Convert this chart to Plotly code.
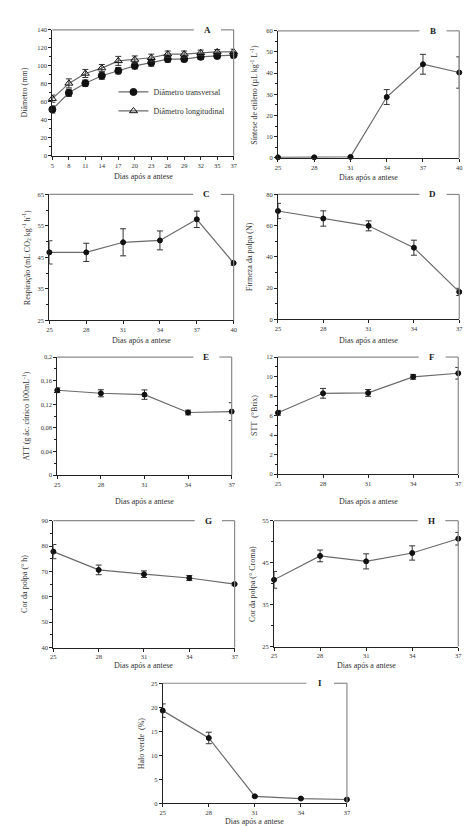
import plotly.graph_objects as go

W, H = 471, 826

# ---------------- data ----------------
A_days = ["5", "8", "11", "14", "17", "20", "23", "26", "29", "32", "35", "37"]
A_trans = [51.5, 70, 80.7, 89, 94.5, 100, 103.5, 107.5, 107.5, 110, 111, 112]
A_trans_err = [4, 4, 3.5, 4, 3.5, 3.5, 4, 3.5, 3, 3, 3, 3.5]
A_long = [63.5, 80.5, 91.5, 97.5, 105.5, 107, 109, 113, 113, 114.5, 115.5, 115.5]
A_long_err = [4, 5, 4.5, 4, 5, 4, 4, 3.5, 3.5, 3, 2.5, 3]

days6 = [25, 28, 31, 34, 37, 40]
days5 = [25, 28, 31, 34, 37]

B_vals = [0.2, 0.2, 0.4, 28.7, 44.2, 40.3]
B_err = [0, 0, 0.3, 3.5, 4.7, 7.4]
C_vals = [46.6, 46.6, 49.8, 50.4, 57.1, 43.2]
C_err = [3.7, 2.9, 4.3, 3.0, 2.6, 0.7]
D_vals = [69.4, 64.6, 59.9, 45.9, 17.6]
D_err = [4.9, 4.9, 3.2, 4.8, 2.3]
E_vals = [0.1437, 0.1386, 0.1363, 0.106, 0.1076]
E_err = [0.004, 0.006, 0.008, 0.004, 0.015]
F_vals = [6.28, 8.28, 8.32, 9.97, 10.34]
F_err = [0.25, 0.5, 0.35, 0.25, 0.6]
G_vals = [77.8, 70.6, 68.9, 67.4, 65.0]
G_err = [2.8, 1.9, 1.3, 1.0, 0.6]
H_vals = [40.9, 46.6, 45.3, 47.3, 50.7]
H_err = [2.0, 1.4, 1.8, 1.7, 1.5]
I_vals = [19.3, 13.6, 1.44, 0.98, 0.78]
I_err = [1.4, 1.2, 0.15, 0.1, 0.1]

xtitle = "Dias após a antese"
ytitles = {
    "A": "Diâmetro (mm)",
    "B": "Síntese de etileno (µL kg<sup>-1</sup> L<sup>-1</sup>)",
    "C": "Respiração (mL CO<sub>2</sub> kg<sup>-1</sup> h<sup>-1</sup>)",
    "D": "Firmeza da polpa (N)",
    "E": "ATT (g ác. cítrico 100mL<sup>-1</sup>)",
    "F": "STT  (°Brix)",
    "G": "Cor da polpa (° h)",
    "H": "Cor da polpa (° Croma)",
    "I": "Halo verde  (%)",
}

# ---------------- layout geometry (pixels) ----------------
panels = {
    "A": dict(box=(42, 226, 18, 145), yr=(0, 140), dt=20, xt=166, yt=14),
    "B": dict(box=(271, 455, 19, 147), yr=(0, 60), dt=10, xt=167, yt=247),
    "C": dict(box=(39, 226, 184, 311), yr=(25, 65), dt=10, xt=331, yt=16),
    "D": dict(box=(271, 455, 184, 310), yr=(0, 80), dt=20, xt=331, yt=243),
    "E": dict(box=(47, 224, 348, 467), yr=(0, 0.2), dt=0.04, xt=494, yt=15),
    "F": dict(box=(271, 454, 348, 466), yr=(0, 12), dt=2, xt=494, yt=247),
    "G": dict(box=(43, 227, 513, 641), yr=(40, 90), dt=10, xt=659, yt=13),
    "H": dict(box=(267, 454, 513, 640), yr=(25, 55), dt=10, xt=659, yt=245),
    "I": dict(box=(154, 341, 677, 798), yr=(0, 25), dt=5, xt=816, yt=132),
}

FONT = "Liberation Serif"
TXT = "#333333"
LINE = "#6a6a6a"
FRAME = "#8a8a8a"

fig = go.Figure()

def series(idx, x, y, err, symbol="circle", size=5, fill="#111111", name=None, legend=False):
    ax = "" if idx == 1 else str(idx)
    fig.add_trace(go.Scatter(
        x=x, y=y, mode="lines+markers", name=name, showlegend=legend,
        xaxis="x" + ax, yaxis="y" + ax, cliponaxis=False,
        line=dict(color=LINE, width=1.2),
        marker=dict(symbol=symbol, size=size, color=fill,
                    line=dict(color="#111111", width=1)),
        error_y=dict(type="data", array=err, visible=True, color="#333333",
                     thickness=1, width=3),
    ))

series(1, A_days, A_trans, A_trans_err, "circle", 7, "#111111", "Diâmetro transversal", True)
series(1, A_days, A_long, A_long_err, "triangle-up-open", 7, "#111111", "Diâmetro longitudinal", True)
series(2, days6, B_vals, B_err)
series(3, days6, C_vals, C_err)
series(4, days5, D_vals, D_err)
series(5, days5, E_vals, E_err)
series(6, days5, F_vals, F_err)
series(7, days5, G_vals, G_err)
series(8, days5, H_vals, H_err)
series(9, days5, I_vals, I_err)

layout = dict(
    width=W, height=H, margin=dict(l=0, r=0, t=0, b=0),
    paper_bgcolor="white", plot_bgcolor="white",
    font=dict(family=FONT, color=TXT, size=7),
    separators=",.",
    showlegend=True,
    legend=dict(x=104 / W, y=1 - 66 / H, xanchor="left", yanchor="top",
                bgcolor="rgba(0,0,0,0)", font=dict(family=FONT, size=8, color=TXT),
                itemwidth=30, tracegroupgap=0, borderwidth=0),
)
annotations = []
shapes = []

for i, (key, p) in enumerate(panels.items(), start=1):
    ax = "" if i == 1 else str(i)
    x0, x1, y0, y1 = p["box"]
    xd = [x0 / W, x1 / W]
    yd = [1 - y1 / H, 1 - y0 / H]
    if key == "A":
        xa = dict(type="category", range=[0, len(A_days) - 1])
    elif key in ("B", "C"):
        xa = dict(range=[25, 40], tickvals=days6)
    else:
        xa = dict(range=[25, 37], tickvals=days5)
    xa.update(domain=xd, anchor="y" + ax, showline=True, linecolor="#222222",
              linewidth=1, ticks="outside", ticklen=3, tickcolor="#222222",
              showgrid=False, zeroline=False,
              tickfont=dict(size=6.5, family=FONT, color=TXT), fixedrange=True)
    ya = dict(domain=yd, anchor="x" + ax, range=list(p["yr"]), dtick=p["dt"],
              tick0=p["yr"][0], showline=True, linecolor="#222222", linewidth=1,
              ticks="outside", ticklen=3, tickcolor="#222222", showgrid=False,
              zeroline=False, tickfont=dict(size=6.5, family=FONT, color=TXT),
              minor=dict(ticks="outside", ticklen=2, tickcolor="#222222", nticks=2),
              fixedrange=True)
    layout["xaxis" + ax] = xa
    layout["yaxis" + ax] = ya

    xref = "x" + ax + " domain"
    yref = "y" + ax + " domain"
    for (a, b, c, d) in [(0, 1, 0.78, 1), (0.93, 1, 1, 1), (1, 1, 1, 0)]:
        shapes.append(dict(type="line", xref=xref, yref=yref, x0=a, y0=b, x1=c, y1=d,
                           line=dict(color=FRAME, width=1.2)))
    annotations.append(dict(text="<b>" + key + "</b>", xref=xref, yref=yref, x=0.855, y=1,
                            showarrow=False, xanchor="center", yanchor="middle",
                            font=dict(family=FONT, size=9, color="#222222")))
    annotations.append(dict(text=xtitle, xref=xref, yref="paper", x=0.5, y=1 - p["xt"] / H,
                            showarrow=False, xanchor="center", yanchor="middle",
                            font=dict(family=FONT, size=8, color=TXT)))
    annotations.append(dict(text=ytitles[key], xref="paper", yref=yref, x=p["yt"] / W, y=0.5,
                            textangle=-90, showarrow=False, xanchor="center", yanchor="middle",
                            font=dict(family=FONT, size=8, color=TXT)))

layout["annotations"] = annotations
layout["shapes"] = shapes
fig.update_layout(**layout)

fig.write_html("out.html")
